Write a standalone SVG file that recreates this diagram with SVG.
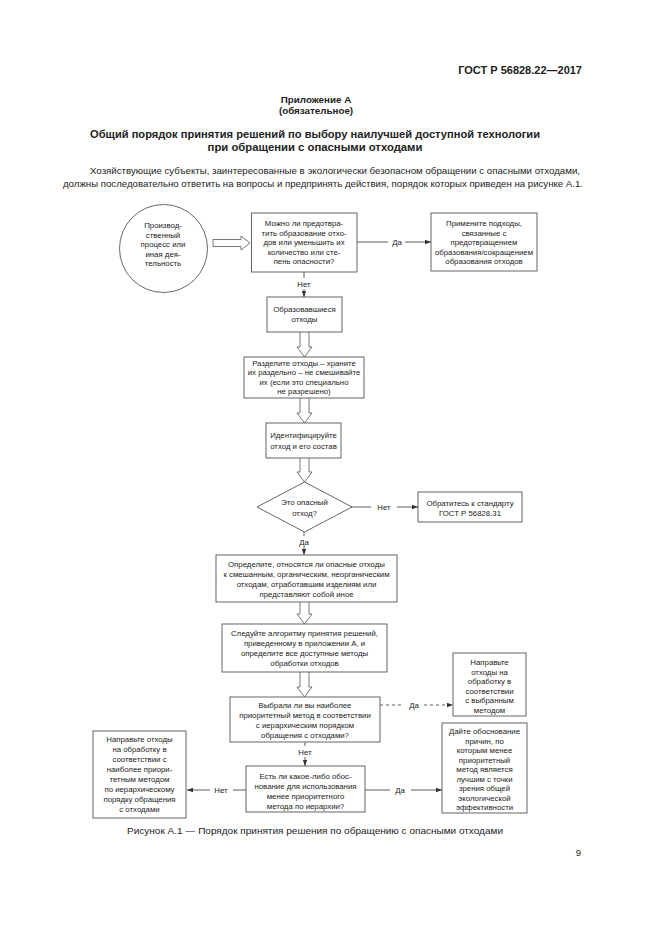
<svg xmlns="http://www.w3.org/2000/svg" width="661" height="935" viewBox="0 0 661 935">
<defs>
<style>
text{font-family:"Liberation Sans",Arial,sans-serif;fill:#222}
.h{font-weight:bold}
.b{font-size:7.8px;text-anchor:middle}
.p{font-size:9.6px}
.box{fill:#fff;stroke:#555;stroke-width:0.9}
.ln{stroke:#333;stroke-width:0.8;fill:none}
.dl{stroke:#333;stroke-width:0.8;fill:none;stroke-dasharray:3 3}
.ha{fill:#fff;stroke:#555;stroke-width:0.8}
</style>
<marker id="ah" viewBox="0 0 6 6" refX="6" refY="3" markerWidth="6" markerHeight="6" markerUnits="userSpaceOnUse" orient="auto">
<path d="M0,0.8 L6,3 L0,5.2 Z" fill="#333"/>
</marker>
</defs>
<rect width="661" height="935" fill="#fff"/>

<text class="h" x="582" y="74" font-size="11" text-anchor="end">ГОСТ Р 56828.22—2017</text>
<text class="h" x="316" y="103" font-size="9.8" text-anchor="middle">Приложение А</text>
<text class="h" x="316" y="114" font-size="9.8" text-anchor="middle">(обязательное)</text>
<text class="h" x="315" y="138" font-size="11.3" text-anchor="middle" textLength="450" lengthAdjust="spacingAndGlyphs">Общий порядок принятия решений по выбору наилучшей доступной технологии</text>
<text class="h" x="315" y="151" font-size="11.3" text-anchor="middle">при обращении с опасными отходами</text>
<text class="p" x="90" y="174" textLength="490" lengthAdjust="spacingAndGlyphs">Хозяйствующие субъекты, заинтересованные в экологически безопасном обращении с опасными отходами,</text>
<text class="p" x="63" y="187" textLength="520" lengthAdjust="spacingAndGlyphs">должны последовательно ответить на вопросы и предпринять действия, порядок которых приведен на рисунке А.1.</text>

<g id="connectors">
<path class="ha" d="M213,239.5 H241 V236 L250,243 L241,250 V246.5 H213 Z"/>
<path class="ln" d="M357,242 H388 M405,242 H431" marker-end="url(#ah)"/>
<text class="b" x="397" y="245">Да</text>
<path class="ln" d="M304,272 V278 M304,289 V297" marker-end="url(#ah)"/>
<text class="b" x="304" y="287">Нет</text>
<path class="ha" d="M300,332 V347 H297 L304.5,357 L312,347 H309 V332"/>
<path class="ha" d="M300,398 V413 H297 L304.5,423 L312,413 H309 V398"/>
<path class="ha" d="M300,458 V472 H297 L304.5,482 L312,472 H309 V458"/>
<path class="ln" d="M352,507 H371 M397,507 H418" marker-end="url(#ah)"/>
<text class="b" x="384" y="510">Нет</text>
<path class="ln" d="M304,532 V536 M304,547 V555" marker-end="url(#ah)"/>
<text class="b" x="304" y="545">Да</text>
<path class="ha" d="M300,602 V614 H297 L304.5,624 L312,614 H309 V602"/>
<path class="ha" d="M300,672 V687 H297 L304.5,697 L312,687 H309 V672"/>
<path class="dl" d="M380,705 H404 M424,705 H453" marker-end="url(#ah)"/>
<text class="b" x="414" y="708">Да</text>
<path class="ln" d="M305,742 V746 M305,757 V766" marker-end="url(#ah)"/>
<text class="b" x="305" y="755">Нет</text>
<path class="ln" d="M246,790 H233 M210,790 H187" marker-end="url(#ah)"/>
<text class="b" x="221" y="793">Нет</text>
<path class="ln" d="M365,790 H390 M411,790 H442" marker-end="url(#ah)"/>
<text class="b" x="400" y="793">Да</text>
</g>

<g id="start">
<circle class="box" cx="163.5" cy="248.5" r="44"/>
<text class="b" x="163" y="228">Производ-</text>
<text class="b" x="163" y="237.5">ственный</text>
<text class="b" x="163" y="247">процесс или</text>
<text class="b" x="163" y="256.5">иная дея-</text>
<text class="b" x="163" y="266">тельность</text>
</g>

<g id="q1">
<rect class="box" x="251.5" y="213" width="105.5" height="59"/>
<text class="b" x="304" y="226">Можно ли предотвра-</text>
<text class="b" x="304" y="235.5">тить образование отхо-</text>
<text class="b" x="304" y="245">дов или уменьшить их</text>
<text class="b" x="304" y="254.5">количество или сте-</text>
<text class="b" x="304" y="264">пень опасности?</text>
</g>

<g id="prevent">
<rect class="box" x="431" y="213" width="106" height="58"/>
<text class="b" x="484" y="226">Примените подходы,</text>
<text class="b" x="484" y="235.5">связанные с</text>
<text class="b" x="484" y="245">предотвращением</text>
<text class="b" x="484" y="254.5">образования/сокращением</text>
<text class="b" x="484" y="264">образования отходов</text>
</g>

<g id="formed">
<rect class="box" x="267" y="297" width="75" height="35"/>
<text class="b" x="304.5" y="312">Образовавшиеся</text>
<text class="b" x="304.5" y="321.5">отходы</text>
</g>

<g id="separate">
<rect class="box" x="244" y="357" width="120" height="41"/>
<text class="b" x="304" y="365.5">Разделите отходы – храните</text>
<text class="b" x="304" y="375">их раздельно – не смешивайте</text>
<text class="b" x="304" y="384.5">их (если это специально</text>
<text class="b" x="304" y="394">не разрешено)</text>
</g>

<g id="identify">
<rect class="box" x="266" y="423" width="75" height="35"/>
<text class="b" x="303.5" y="438">Идентифицируйте</text>
<text class="b" x="303.5" y="448.5">отход и его состав</text>
</g>

<g id="hazard">
<path class="box" d="M304.5,482 L352,507 L304.5,532 L257,507 Z"/>
<text class="b" x="304.5" y="505">Это опасный</text>
<text class="b" x="304.5" y="515.5">отход?</text>
</g>

<g id="standard">
<rect class="box" x="418" y="492" width="104" height="30"/>
<text class="b" x="470" y="505.5">Обратитесь к стандарту</text>
<text class="b" x="470" y="515.5">ГОСТ Р 56828.31</text>
</g>

<g id="classify">
<rect class="box" x="216" y="555" width="181" height="47"/>
<text class="b" x="306.5" y="567">Определите, относятся ли опасные отходы</text>
<text class="b" x="306.5" y="577">к смешанным, органическим, неорганическим</text>
<text class="b" x="306.5" y="587">отходам, отработавшим изделиям или</text>
<text class="b" x="306.5" y="597">представляют собой иное</text>
</g>

<g id="algorithm">
<rect class="box" x="222" y="624" width="165" height="48"/>
<text class="b" x="304.5" y="636">Следуйте алгоритму принятия решений,</text>
<text class="b" x="304.5" y="646">приведенному в приложении А, и</text>
<text class="b" x="304.5" y="656">определите все доступные методы</text>
<text class="b" x="304.5" y="666">обработки отходов</text>
</g>

<g id="q2">
<rect class="box" x="230" y="697" width="150" height="45"/>
<text class="b" x="305" y="708">Выбрали ли вы наиболее</text>
<text class="b" x="305" y="718">приоритетный метод в соответствии</text>
<text class="b" x="305" y="728">с иерархическим порядком</text>
<text class="b" x="305" y="738">обращения с отходами?</text>
</g>

<g id="send-chosen">
<rect class="box" x="453" y="653" width="73" height="63"/>
<text class="b" x="489.5" y="665">Направьте</text>
<text class="b" x="489.5" y="674.5">отходы на</text>
<text class="b" x="489.5" y="684">обработку в</text>
<text class="b" x="489.5" y="693.5">соответствии</text>
<text class="b" x="489.5" y="703">с выбранным</text>
<text class="b" x="489.5" y="712.5">методом</text>
</g>

<g id="q3">
<rect class="box" x="246" y="766" width="119" height="46"/>
<text class="b" x="305.5" y="778.5">Есть ли какое-либо обос-</text>
<text class="b" x="305.5" y="788.5">нование для использования</text>
<text class="b" x="305.5" y="798.5">менее приоритетного</text>
<text class="b" x="305.5" y="808.5">метода по иерархии?</text>
</g>

<g id="send-priority">
<rect class="box" x="93" y="731" width="93" height="87"/>
<text class="b" x="139.5" y="742">Направьте отходы</text>
<text class="b" x="139.5" y="752">на обработку в</text>
<text class="b" x="139.5" y="762">соответствии с</text>
<text class="b" x="139.5" y="772">наиболее  приори-</text>
<text class="b" x="139.5" y="782">тетным методом</text>
<text class="b" x="139.5" y="792">по иерархическому</text>
<text class="b" x="139.5" y="802">порядку обращения</text>
<text class="b" x="139.5" y="812">с отходами</text>
</g>

<g id="justify">
<rect class="box" x="442" y="723" width="85" height="90"/>
<text class="b" x="484.5" y="734">Дайте обоснование</text>
<text class="b" x="484.5" y="743.5">причин, по</text>
<text class="b" x="484.5" y="753">которым менее</text>
<text class="b" x="484.5" y="762.5">приоритетный</text>
<text class="b" x="484.5" y="772">метод является</text>
<text class="b" x="484.5" y="781.5">лучшим с точки</text>
<text class="b" x="484.5" y="791">зрения общей</text>
<text class="b" x="484.5" y="800.5">экологической</text>
<text class="b" x="484.5" y="810">эффективности</text>
</g>

<text class="p" x="127" y="834" textLength="376" lengthAdjust="spacingAndGlyphs">Рисунок А.1 — Порядок принятия решения по обращению с опасными отходами</text>
<text class="p" x="581" y="856" text-anchor="end">9</text>
</svg>
